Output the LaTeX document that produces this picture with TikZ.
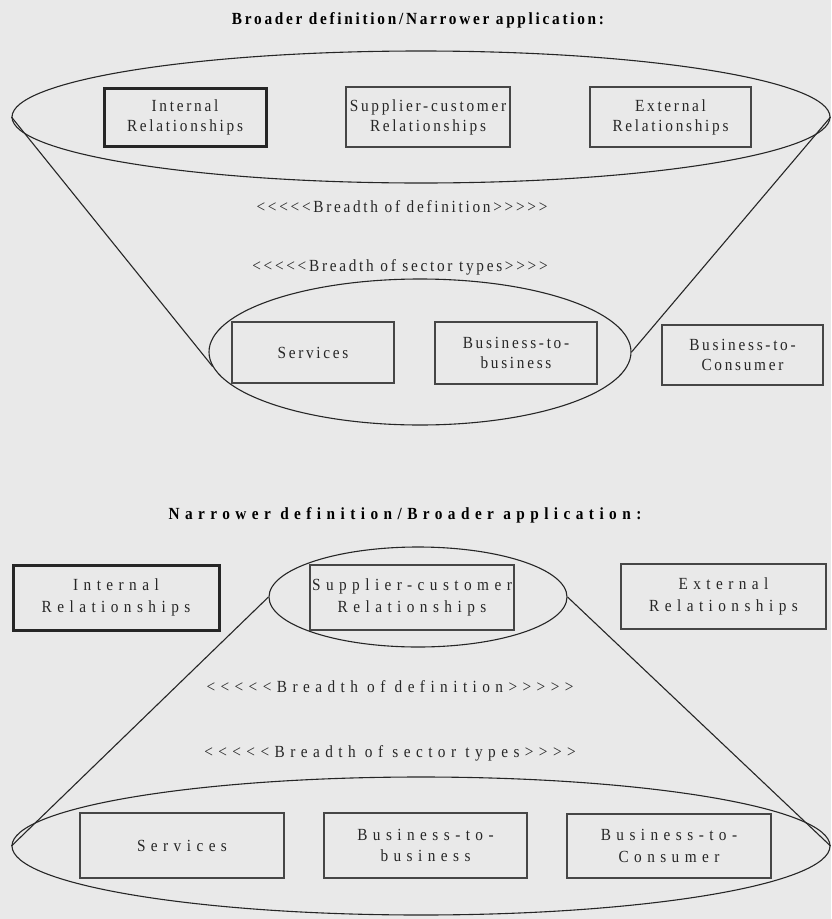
\documentclass[tikz,border=0pt]{standalone}
\usepackage{fontspec}
\setmainfont{Liberation Serif}
\newfontfamily\tightfont[LetterSpace=16,FakeStretch=0.9]{Liberation Serif}
\newfontfamily\widefont[LetterSpace=32,FakeStretch=0.9]{Liberation Serif}
\usetikzlibrary{shapes.geometric}
\definecolor{paper}{RGB}{233,233,233}
\definecolor{ink}{RGB}{38,38,38}
\definecolor{boxline}{RGB}{70,70,70}
\begin{document}
\begin{tikzpicture}[x=1pt,y=-1pt,
  oval/.style={ellipse, draw=ink, line width=1.1pt, inner sep=0pt},
  link/.style={draw=ink, line width=1.1pt},
  cbox/.style={draw=boxline, line width=1.3pt, fill=paper, align=center,
    inner sep=0pt, text=ink},
  thickbox/.style={cbox, draw=ink, line width=3pt},
  topfont/.style={font=\tightfont\fontsize{17}{20}\selectfont},
  lowfont/.style={font=\widefont\fontsize{17}{21.5}\selectfont},
  caption/.style={text=ink},
  heading/.style={text=black}]

\fill[paper] (0,0) rectangle (831,919);
\useasboundingbox (0,0) rectangle (831,919);

% ---------- broader definition / narrower application ----------
\node[heading, font=\tightfont\bfseries\fontsize{17}{20}\selectfont] (t1) at (418,20) {Broader definition/Narrower application:};

\node[oval, minimum width=818, minimum height=132] (E1) at (421,117) {};
\node[oval, minimum width=422, minimum height=146] (E2) at (420,352) {};

\draw[link] (E1.west) -- (E2.184);
\draw[link] (E1.east) -- (E2.east);

\node[thickbox, topfont, minimum width=162, minimum height=58] (int1) at (185,117) {Internal\\Relationships};
\node[cbox, topfont, minimum width=164, minimum height=60] (sup1) at (428,117) {Supplier-customer\\Relationships};
\node[cbox, topfont, minimum width=161, minimum height=60] (ext1) at (670.5,117) {External\\Relationships};

\node[caption, topfont] (def1) at (402,207) {<{}<{}<{}<{}<Breadth of definition>{}>{}>{}>{}>};
\node[caption, topfont] (sec1) at (400,267) {<{}<{}<{}<{}<Breadth of sector types>{}>{}>{}>};

\node[cbox, topfont, minimum width=162, minimum height=61] (srv1) at (313,352.5) {Services};
\node[cbox, topfont, minimum width=162, minimum height=62] (btb1) at (516,353) {Business-to-\\business};
\node[cbox, topfont, minimum width=161, minimum height=60] (btc1) at (742.5,355) {Business-to-\\Consumer};

% ---------- narrower definition / broader application ----------
\node[heading, font=\widefont\bfseries\fontsize{17}{20}\selectfont] (t2) at (405,515) {Narrower definition/Broader application:};

\node[oval, minimum width=298, minimum height=100] (E3) at (418,597) {};
\node[oval, minimum width=818, minimum height=138] (E4) at (421,846) {};

\draw[link] (E3.west) -- (E4.west);
\draw[link] (E3.east) -- (E4.east);

\node[thickbox, lowfont, minimum width=206, minimum height=65] (int2) at (116,597.5) {Internal\\Relationships};
\node[cbox, lowfont, minimum width=204, minimum height=65] (sup2) at (412,597.5) {Supplier-customer\\Relationships};
\node[cbox, lowfont, minimum width=205, minimum height=65] (ext2) at (723.5,596.5) {External\\Relationships};

\node[caption, lowfont] (def2) at (390,687) {<{}<{}<{}<{}<Breadth of definition>{}>{}>{}>{}>};
\node[caption, lowfont] (sec2) at (390,753) {<{}<{}<{}<{}<Breadth of sector types>{}>{}>{}>};

\node[cbox, lowfont, minimum width=204, minimum height=65] (srv2) at (182,845.5) {Services};
\node[cbox, lowfont, minimum width=203, minimum height=65] (btb2) at (425.5,845.5) {Business-to-\\business};
\node[cbox, lowfont, minimum width=204, minimum height=64] (btc2) at (669,846) {Business-to-\\Consumer};
\end{tikzpicture}
\end{document}
